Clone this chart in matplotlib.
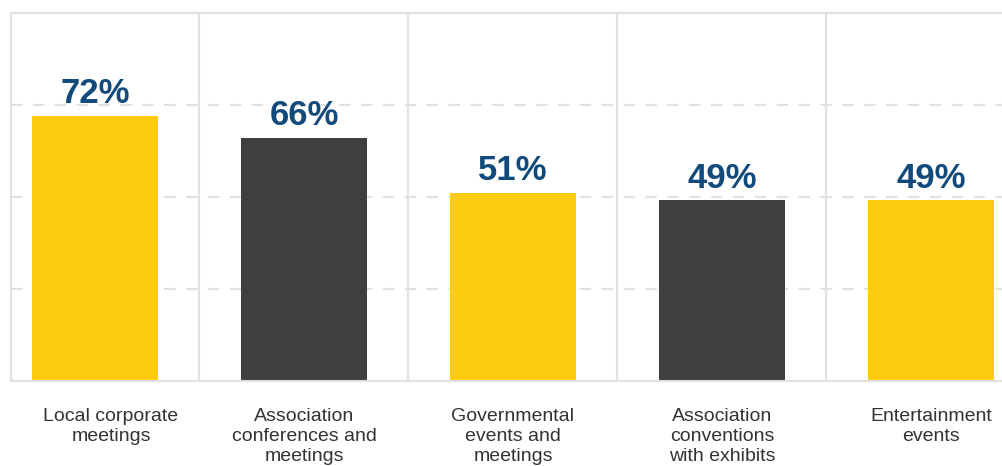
import matplotlib
matplotlib.use("Agg")
import matplotlib.pyplot as plt

categories = [
    "Local corporate\nmeetings",
    "Association\nconferences and\nmeetings",
    "Governmental\nevents and\nmeetings",
    "Association\nconventions\nwith exhibits",
    "Entertainment\nevents",
]
values = [72, 66, 51, 49, 49]
value_labels = [f"{v}%" for v in values]
bar_colors = ["#FDCB10", "#3F3F41", "#FDCB10", "#3F3F41", "#FDCB10"]
gridlines = [25, 50, 75]

plt.rcParams["font.family"] = ["Liberation Sans", "DejaVu Sans"]

W, H = 1003, 466
fig = plt.figure(figsize=(W / 100, H / 100), dpi=100)
ax = fig.add_axes([11 / W, 1 - 380.5 / H, 1 - 11 / W, (380.5 - 12.5) / H])

line_col = "#E1E1E3"
lw = 1.5

x = list(range(len(values)))
ax.set_xlim(-0.402, 4.345)
ax.set_ylim(0, 100)

for g in gridlines:
    ax.axhline(g, color=line_col, lw=lw, linestyle=(0, (5.5, 5)), zorder=1)
for i in range(len(values) - 1):
    ax.axvline(i + 0.5, color=line_col, lw=lw, zorder=1)

ax.bar(x, values, width=0.603, color=bar_colors, zorder=2)

for i, (v, lab) in enumerate(zip(values, value_labels)):
    ax.annotate(lab, (i, v), xytext=(0, 4), textcoords="offset points",
                ha="center", va="bottom", fontsize=25, fontweight="bold",
                color="#124A7C", zorder=3)

for i, cat in enumerate(categories):
    dx = 11.5 if i == 0 else 0
    ax.annotate(cat, (i, 0), xytext=(dx, -20), textcoords="offset points",
                ha="center", va="top", fontsize=14, color="#333333",
                linespacing=1.22, annotation_clip=False)

for s in ["top", "left", "bottom"]:
    ax.spines[s].set_color(line_col)
    ax.spines[s].set_linewidth(lw)
ax.spines["right"].set_visible(False)
ax.set_xticks([])
ax.set_yticks([])

fig.savefig("out.png", dpi=100)
